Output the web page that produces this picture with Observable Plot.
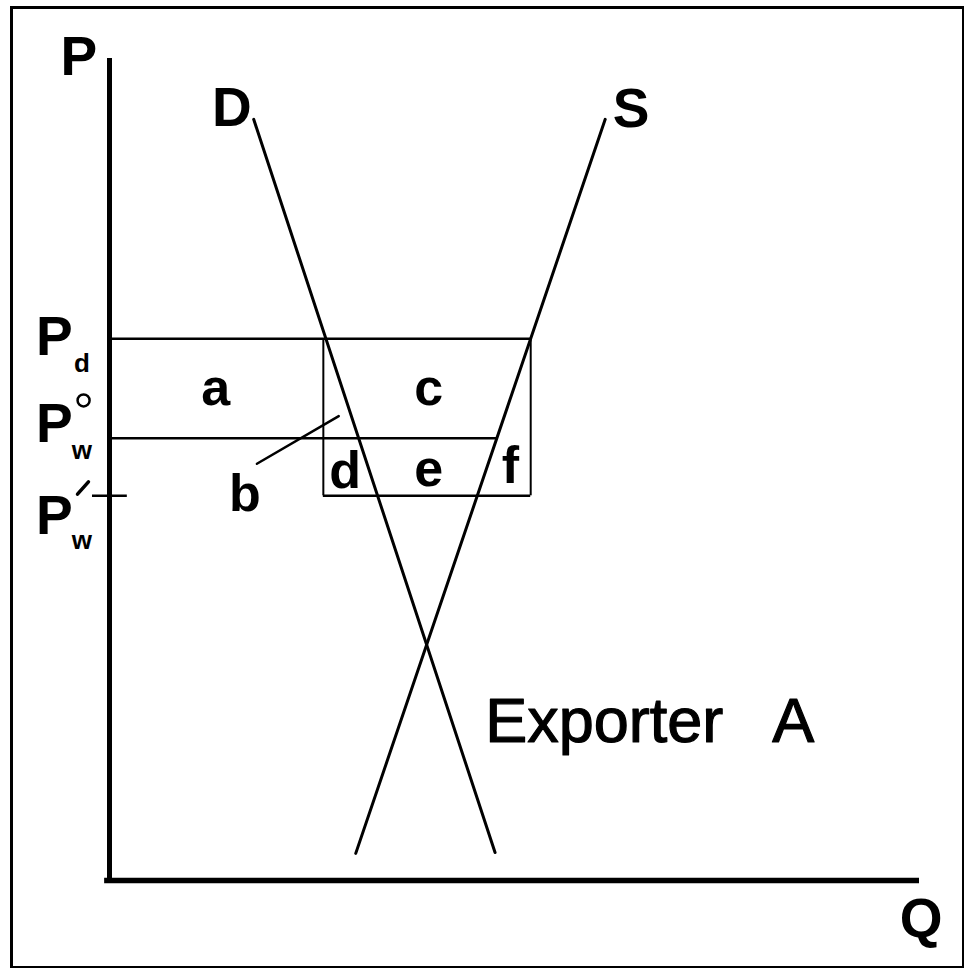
<!DOCTYPE html>
<html>
<head>
<meta charset="utf-8">
<script src="https://cdn.jsdelivr.net/npm/d3@7"></script>
<script src="https://cdn.jsdelivr.net/npm/@observablehq/plot@0.6"></script>
<style>
  body { margin: 0; background: white; overflow: hidden; }
</style>
</head>
<body>
<div id="chart"></div>
<script>
// ---- data (Q, P in diagram units) ----
const demandQ = [17.8, 47.6];
const demandP = [92.6, 3.4];
const supplyQ = [61.2, 30.4];
const supplyP = [92.6, 3.3];

const priceNames = ["P", "P", "P"];
const priceSubs = ["d", "w", "w"];
const priceLevels = [65.9, 53.8, 46.8];   // Pd, Pw°, Pw′
const pdEnd = 52.0;                      // Pd line ends at supply
const pw0End = 47.9;                     // Pw° line ends at supply
const boxQ = [26.4, 52.0];               // box left / right edges
const tickQ = [-2.1, 2.2];               // Pw′ tick

const areaLabels = ["a", "b", "c", "d", "e", "f"];
const areaQ = [13.1, 16.7, 39.4, 29.1, 39.4, 49.5];
const areaP = [57.8, 45.0, 57.8, 47.8, 48.0, 48.4];
const leaderQ = [18.2, 28.3];
const leaderP = [50.7, 56.5];

const curveLabels = ["D", "S"];
const curveLabelQ = [15.1, 64.4];
const curveLabelP = [91.8, 91.7];

const axisLabels = ["P", "Q"];
const axisLabelQ = [-3.8, 100.2];
const axisLabelP = [98.0, -6.9];

const priceLabelQ = -6.8;
const priceLabelP = [63.9, 53.3, 42.2];
const subQ = -3.4;
const subP = [61.9, 51.3, 40.3];
const circleQ = -3.2, circleP = 58.4;
const primeQ = [-3.95, -2.6];
const primeP = [47.0, 48.5];

const title = "Exporter\u2002\u00a0A";
const titleQ = 66.7, titleP = 16.8;

// ---- build tables ----
const demand = demandQ.map((q, i) => ({Q: q, P: demandP[i]}));
const supply = supplyQ.map((q, i) => ({Q: q, P: supplyP[i]}));
const areas = areaLabels.map((t, i) => ({t, Q: areaQ[i], P: areaP[i]}));
const leader = leaderQ.map((q, i) => ({Q: q, P: leaderP[i]}));
const curves = curveLabels.map((t, i) => ({t, Q: curveLabelQ[i], P: curveLabelP[i]}));
const axesL = axisLabels.map((t, i) => ({t, Q: axisLabelQ[i], P: axisLabelP[i]}));
const prices = priceNames.map((t, i) => ({t, Q: priceLabelQ, P: priceLabelP[i]}));
const subs = priceSubs.map((t, i) => ({t, Q: subQ, P: subP[i]}));
const prime = primeQ.map((q, i) => ({Q: q, P: primeP[i]}));

const hLines = [
  {P: priceLevels[0], x1: 0, x2: pdEnd},
  {P: priceLevels[1], x1: 0, x2: pw0End},
  {P: priceLevels[2], x1: boxQ[0], x2: boxQ[1]},
  {P: priceLevels[2], x1: tickQ[0], x2: tickQ[1]}
];
const vLines = boxQ.map(q => ({Q: q, y1: priceLevels[2], y2: priceLevels[0]}));

const font = "'Liberation Sans', Arial, Helvetica, sans-serif";

const chart = Plot.plot({
  width: 964,
  height: 968,
  margin: 0,
  x: {domain: [0, 100], range: [109, 919], axis: null},
  y: {domain: [0, 100], range: [880, 58], axis: null},
  style: {background: "white", fontFamily: font, color: "black"},
  marks: [
    Plot.frame({stroke: "black", strokeWidth: 3, insetLeft: 11, insetTop: 7, insetBottom: 1, insetRight: 1}),
    // axes
    Plot.ruleX([0], {x: d => d, y1: 0, y2: 100, stroke: "black", strokeWidth: 5}),
    Plot.ruleY([0], {y: d => d, x1: -0.6, x2: 100, stroke: "black", strokeWidth: 5.5}),
    // price lines and box
    Plot.ruleY(hLines, {y: "P", x1: "x1", x2: "x2", stroke: "black", strokeWidth: 2.5}),
    Plot.ruleX(vLines, {x: "Q", y1: "y1", y2: "y2", stroke: "black", strokeWidth: 2}),
    // curves
    Plot.line(demand, {x: "Q", y: "P", stroke: "black", strokeWidth: 3}),
    Plot.line(supply, {x: "Q", y: "P", stroke: "black", strokeWidth: 3}),
    Plot.line(leader, {x: "Q", y: "P", stroke: "black", strokeWidth: 2.5}),
    // labels
    Plot.text(areas, {x: "Q", y: "P", text: "t", fontSize: 52, fontWeight: "bold", lineAnchor: "bottom", textAnchor: "middle", fill: "black"}),
    Plot.text(curves, {x: "Q", y: "P", text: "t", fontSize: 55, fontWeight: "bold", lineAnchor: "bottom", textAnchor: "middle", fill: "black"}),
    Plot.text(axesL, {x: "Q", y: "P", text: "t", fontSize: 55, fontWeight: "bold", lineAnchor: "bottom", textAnchor: "middle", fill: "black"}),
    Plot.text(prices, {x: "Q", y: "P", text: "t", fontSize: 55, fontWeight: "bold", lineAnchor: "bottom", textAnchor: "middle", fill: "black"}),
    Plot.text(subs, {x: "Q", y: "P", text: "t", fontSize: 26, fontWeight: "bold", lineAnchor: "bottom", textAnchor: "middle", fill: "black"}),
    Plot.dot([circleQ], {x: d => d, y: () => circleP, r: 6, stroke: "black", strokeWidth: 2.5, fill: "none"}),
    Plot.line(prime, {x: "Q", y: "P", stroke: "black", strokeWidth: 3.5}),
    Plot.text([title], {x: () => titleQ, y: () => titleP, text: d => d, fontSize: 63, lineAnchor: "bottom", textAnchor: "middle", fill: "black", stroke: "black", strokeWidth: 1.2})
  ]
});
document.getElementById("chart").appendChild(chart);
</script>
</body>
</html>
